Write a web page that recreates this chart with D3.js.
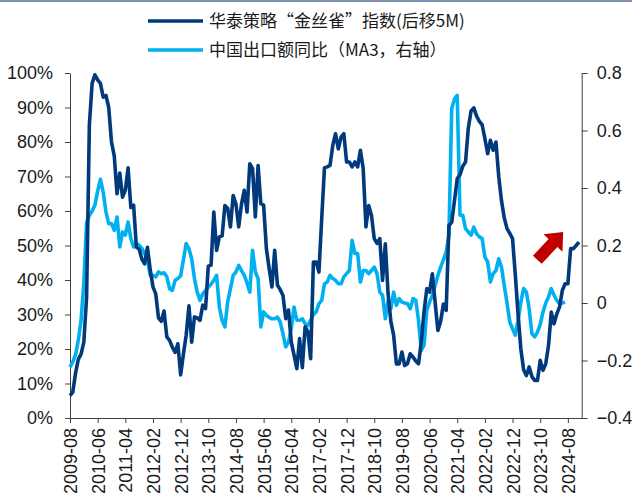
<!DOCTYPE html>
<html>
<head>
<meta charset="utf-8">
<script src="https://cdn.jsdelivr.net/npm/d3@7"></script>
<style>
  body { margin: 0; background: #fff; }
  svg { display: block; }
  .tick text { font-family: "Liberation Sans", Arial, sans-serif; font-size: 18px; fill: #1a1a1a; }
  .legend text { font-family: "Noto Sans CJK SC", sans-serif; font-size: 17px; fill: #1a1a1a; }
</style>
</head>
<body>
<script>
// month index 0 = 2009-08
const tickLabels = ['2009-08','2010-06','2011-04','2012-02','2012-12','2013-10','2014-08','2015-06',
  '2016-04','2017-02','2017-12','2018-10','2019-08','2020-06','2021-04','2022-02','2022-12','2023-10','2024-08'];

// 华泰策略"金丝雀"指数 (后移5M), left axis, percent
const canary = [6.5,7.5,13,17,18.5,22,35,85,97,99.5,98,97,93,93.5,90,80,76,65,71,64,
  66,72.5,61,61.7,49.5,49,46,44.7,49.5,43,38,36,29,28,31,23.5,22.5,20.5,19,21.5,
  12.5,18.5,24,32.5,22,29.3,29,28.3,32.7,31.7,44,44.3,59.7,48.6,52.5,52.8,61.6,60.8,55.4,64.5,
  62,55.4,62,66,59.7,73.7,72.3,58.3,73.2,62.1,61.7,49.1,43.3,38,48.6,38.5,37.2,35.5,28.8,31.3,
  22,18.2,14.3,23,14.6,26.4,25,17.2,45.2,45.2,42.3,57.8,72.5,72.8,73.2,79,82.4,78,81.4,82.4,
  74.2,74.2,72.8,74.2,72.8,77.6,72.3,55.4,61.6,58.7,52,50.6,52,39.9,50.5,36,28,24,15.7,15.7,
  19.1,15.2,15.7,18.6,17.7,16.5,15.7,22,30.8,37.5,36.5,41.8,33.6,25.4,28,33,31.2,55.8,56.7,63,
  69.4,70.5,73,74.2,84,89,89.9,87.5,86,85,81,76.6,80.5,77.6,80,70,63,58,54.9,53.5,
  52,41.4,30,20,14,12.3,14.8,12,10.9,10.9,16.7,13.8,15.7,21,30.7,27.3,30.2,32.2,37,38.9,
  38.9,49.1,49.1,50,51];

// 中国出口额同比 (MA3), right axis
const exportsYoy = [-0.223,-0.205,-0.18,-0.13,-0.06,0.07,0.28,0.305,0.32,0.34,0.39,0.43,0.386,0.317,0.276,0.276,0.253,0.299,0.195,0.247,
  0.236,0.282,0.224,0.195,0.207,0.201,0.19,0.172,0.149,0.096,0.096,0.091,0.108,0.102,0.105,0.091,0.05,0.044,0.079,0.085,
  0.095,0.15,0.207,0.189,0.154,0.085,0.038,0.009,0.032,0.044,0.055,0.065,0.079,0.096,-0.014,-0.06,-0.083,0.003,0.05,0.096,
  0.108,0.131,0.113,0.096,0.07,0.038,0.183,0.108,0.085,-0.083,-0.031,-0.043,-0.05,-0.055,-0.055,-0.049,-0.066,-0.107,-0.153,-0.136,
  -0.089,-0.014,-0.06,-0.06,-0.055,-0.072,-0.078,-0.06,-0.04,-0.031,-0.002,0.009,0.067,0.073,0.096,0.085,0.079,0.067,0.067,0.091,
  0.102,0.113,0.218,0.172,0.172,0.073,0.113,0.113,0.102,0.113,0.125,0.102,0.038,0.027,-0.055,0.009,-0.02,0.038,-0.008,0.015,
  0.003,0.0,-0.002,-0.02,0.015,0.01,-0.06,-0.165,-0.147,-0.025,0.003,0.027,0.061,0.096,0.125,0.15,0.177,0.235,0.676,0.71,
  0.722,0.305,0.305,0.259,0.247,0.236,0.264,0.241,0.23,0.224,0.16,0.143,0.073,0.102,0.113,0.154,0.125,0.061,0.0,-0.066,
  -0.09,-0.112,-0.06,0.003,0.05,0.038,-0.02,-0.107,-0.118,-0.101,-0.075,-0.031,0.0,0.021,0.05,0.027,0.009,-0.002,0.0,0.003];

const leftTicks = [0,0.1,0.2,0.3,0.4,0.5,0.6,0.7,0.8,0.9,1];
const rightTicks = [-0.4,-0.2,0,0.2,0.4,0.6,0.8];

const W = 632, H = 497;
const svg = d3.select('body').append('svg').attr('width', W).attr('height', H);

const x = d3.scaleLinear().domain([0, 185]).range([70, 581.7]);
const yL = d3.scaleLinear().domain([0, 1]).range([418, 73]);
const yR = d3.scaleLinear().domain([-0.4, 0.8]).range([418, 73]);

// frame line at top
svg.append('line').attr('x1', 0).attr('x2', W).attr('y1', 1).attr('y2', 1)
  .attr('stroke', '#8093b3').attr('stroke-width', 2);

// axes
const axisColor = '#404040';
const gL = svg.append('g').attr('transform', 'translate(70,0)')
  .call(d3.axisLeft(yL).tickValues(leftTicks).tickFormat(d3.format('.0%')).tickSize(5).tickSizeOuter(0).tickPadding(12));
const gR = svg.append('g').attr('transform', 'translate(581.7,0)')
  .call(d3.axisRight(yR).tickValues(rightTicks).tickFormat(d => d3.format('.1f')(d).replace(/^0\.0$|^-0\.0$/, '0').replace(/\.0$/, '')).tickSize(6).tickSizeOuter(0).tickPadding(9));
const gB = svg.append('g').attr('transform', 'translate(0,418)')
  .call(d3.axisBottom(x).tickValues(d3.range(0, 181, 10)).tickFormat((d, i) => tickLabels[i]).tickSize(5).tickSizeOuter(0));
gB.selectAll('.tick text')
  .attr('transform', 'rotate(-90)')
  .attr('text-anchor', 'end')
  .attr('x', -10).attr('y', 0).attr('dy', '0.36em');
[gL, gR, gB].forEach(g => {
  g.select('.domain').attr('stroke', axisColor);
  g.selectAll('.tick line').attr('stroke', axisColor);
});

// series
const lineL = d3.line().x((d, i) => x(i)).y(d => yL(d / 100));
const lineR = d3.line().x((d, i) => x(i)).y(d => yR(d));
svg.append('path').datum(exportsYoy).attr('d', lineR)
  .attr('fill', 'none').attr('stroke', '#00b0f0').attr('stroke-width', 3.6).attr('stroke-linejoin', 'round');
svg.append('path').datum(canary).attr('d', lineL)
  .attr('fill', 'none').attr('stroke', '#003a7c').attr('stroke-width', 3.6).attr('stroke-linejoin', 'round');

// red block arrow pointing up-right
const tip = [x(178.3), yL(0.539)];
const u = [0.68, -0.73], n = [0.73, 0.68];
const len = 38, headLen = 15, shaftW = 6, headW = 13;
const base = [tip[0] - u[0] * headLen, tip[1] - u[1] * headLen];
const tail = [tip[0] - u[0] * len, tip[1] - u[1] * len];
const pt = (p, k) => [p[0] + n[0] * k, p[1] + n[1] * k];
svg.append('polygon')
  .attr('points', [pt(tail, -shaftW), pt(base, -shaftW), pt(base, -headW), tip, pt(base, headW), pt(base, shaftW), pt(tail, shaftW)].map(p => p.join(',')).join(' '))
  .attr('fill', '#c00000');

// legend
const legend = svg.append('g').attr('class', 'legend');
const legendItems = [
  { label: '华泰策略“金丝雀”指数(后移5M)', color: '#003a7c', y: 21 },
  { label: '中国出口额同比（MA3，右轴）', color: '#00b0f0', y: 50 }
];
legendItems.forEach(item => {
  legend.append('line').attr('x1', 148).attr('x2', 203).attr('y1', item.y).attr('y2', item.y)
    .attr('stroke', item.color).attr('stroke-width', 3.6);
  legend.append('text').attr('x', 209).attr('y', item.y).attr('dy', '0.35em').text(item.label);
});
</script>
</body>
</html>
